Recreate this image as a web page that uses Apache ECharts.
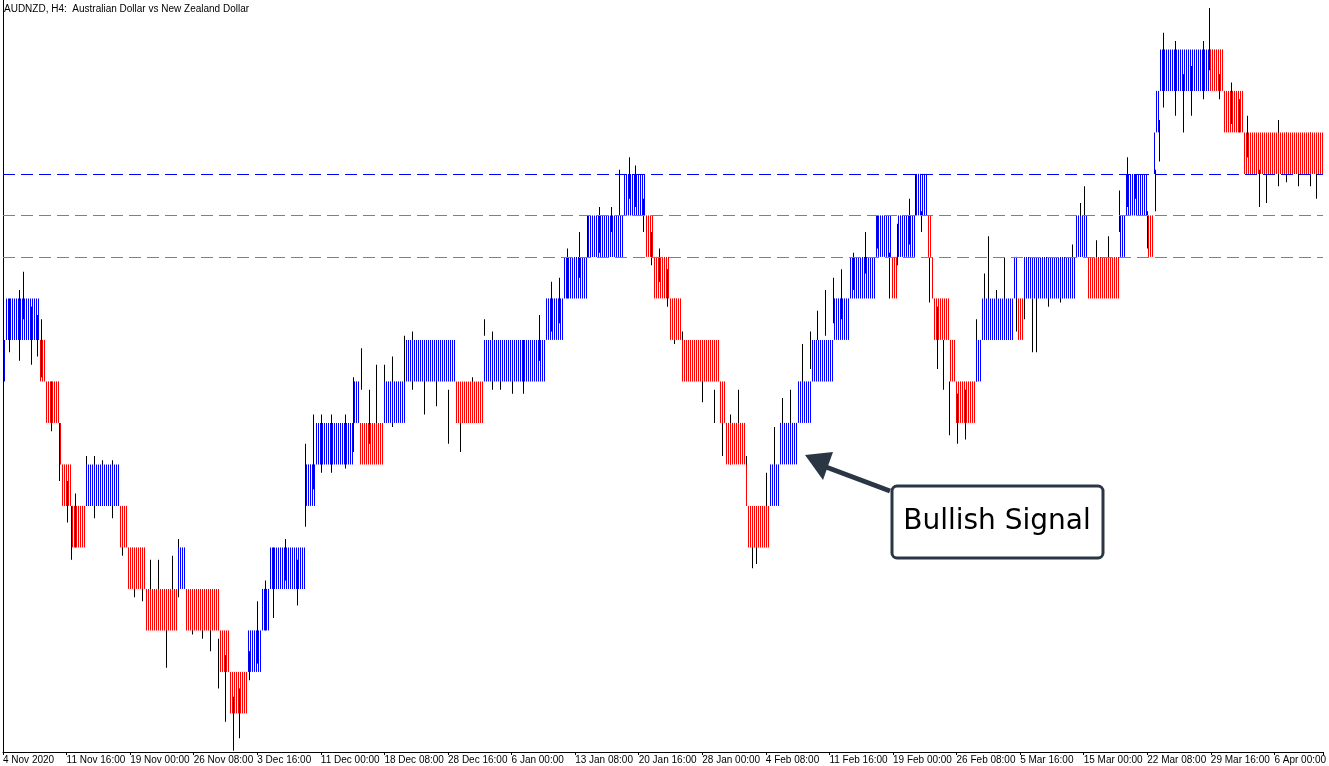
<!DOCTYPE html>
<html>
<head>
<meta charset="utf-8">
<title>AUDNZD H4</title>
<script src="https://cdn.jsdelivr.net/npm/echarts@6/dist/echarts.min.js"></script>
<style>html,body{margin:0;padding:0;background:#fff}</style>
</head>
<body>
<div id="main" style="width:1329px;height:766px;"></div>
<script type="text/javascript">
// x = bar index (H4 bars), y = price in box units (1 box per level)
var timeLabels = ['4 Nov 2020', '11 Nov 16:00', '19 Nov 00:00', '26 Nov 08:00', '3 Dec 16:00', '11 Dec 00:00',
    '18 Dec 08:00', '28 Dec 16:00', '6 Jan 00:00', '13 Jan 08:00', '20 Jan 16:00', '28 Jan 00:00', '4 Feb 08:00',
    '11 Feb 16:00', '19 Feb 00:00', '26 Feb 08:00', '5 Mar 16:00', '15 Mar 00:00', '22 Mar 08:00', '29 Mar 16:00', '6 Apr 00:00'];

// [startBar, endBar, boxLow, dir] dir 1 = up (blue), -1 = down (red)
var boxes = [
    [0, 1, -3, 1], [1, 18, -2, 1], [18, 21, -3, -1], [21, 28, -4, -1], [28, 29, -5, -1], [29, 34, -6, -1],
    [34, 42, -7, -1], [42, 59, -6, 1], [59, 63, -7, -1], [63, 72, -8, -1], [72, 88, -9, -1], [88, 92, -8, 1],
    [92, 109, -9, -1], [109, 114, -10, -1], [114, 123, -11, -1], [123, 130, -10, 1], [130, 134, -9, 1],
    [134, 152, -8, 1], [152, 157, -6, 1], [157, 176, -5, 1], [176, 179, -4, 1], [179, 192, -5, -1],
    [192, 203, -4, 1], [203, 228, -3, 1], [228, 242, -4, -1], [242, 273, -3, 1], [273, 282, -2, 1],
    [282, 294, -1, 1], [294, 312, 0, 1], [312, 323, 1, 1], [323, 327, 0, -1], [327, 336, -1, -1],
    [336, 342, -2, -1], [342, 361, -3, -1], [361, 364, -4, -1], [364, 374, -5, -1], [374, 375, -6, -1],
    [375, 386, -7, -1], [386, 391, -6, 1], [391, 400, -5, 1], [400, 407, -4, 1], [407, 418, -3, 1],
    [418, 426, -2, 1], [426, 439, -1, 1], [439, 447, 0, 1], [447, 450, -1, -1], [450, 459, 0, 1],
    [459, 465, 1, 1], [465, 467, 0, -1], [467, 468, -1, -1], [468, 476, -2, -1], [476, 479, -3, -1],
    [479, 490, -4, -1], [490, 493, -3, 1], [493, 509, -2, 1], [509, 511, -1, 1], [511, 514, -2, -1],
    [514, 540, -1, 1], [540, 546, 0, 1], [546, 562, -1, -1], [562, 565, 0, 1], [565, 576, 1, 1],
    [576, 579, 0, -1], [579, 580, 2, 1], [580, 582, 3, 1], [582, 607, 4, 1], [607, 614, 4, -1],
    [614, 624, 3, -1], [624, 665, 2, -1]
];

// [bar, low, high] wicks
var wicks = [
    [3, -2.3, -1.0], [8, -2.5, -0.8], [10, -1.5, -0.36], [14, -2.6, -1.2], [17, -2.4, -1.4], [19, -2.9, -1.5],
    [24, -4.2, -3], [28, -5.4, -4], [32, -6.4, -5.4], [34, -7.3, -6], [36, -7, -5.7], [42, -5.8, -4.8],
    [46, -6.3, -4.8], [50, -6, -4.9], [55, -6.3, -4.9], [60, -7.2, -6], [66, -8.2, -7.2], [70, -8.3, -7.5],
    [74, -8.5, -7.3], [78, -8.2, -7.3], [82, -9.9, -8.5], [85, -8.7, -7.2], [88, -8.2, -6.8], [95, -9.1, -8],
    [100, -9.2, -8.5], [104, -9.5, -8.7], [108, -10.4, -9.2], [112, -11.2, -9.6], [116, -11.9, -10.6],
    [119, -11.6, -10.4], [124, -10.2, -9.5], [128, -9.8, -8.3], [132, -9, -7.8], [136, -8.7, -7],
    [142, -7.8, -6.8], [148, -8.4, -7.3], [152, -6.5, -4.5], [156, -5.6, -3.8], [160, -5.2, -3.8],
    [165, -5.2, -3.8], [172, -5.1, -3.8], [176, -4.7, -2.9], [180, -3.2, -2.2], [184, -4.5, -3.2],
    [188, -4.2, -2.6], [192, -4, -2.6], [196, -4.1, -2.4], [202, -3.4, -1.9], [206, -3.2, -1.8],
    [212, -3.8, -2.8], [218, -3.6, -2.8], [224, -4.5, -3.2], [230, -4.7, -3.3], [236, -4.0, -2.9],
    [242, -1.9, -1.5], [246, -3.2, -1.8], [250, -3.2, -2], [256, -3.3, -2], [262, -3.3, -2], [270, -2.5, -1.4],
    [276, -1.8, -0.6], [280, -1.6, -0.5], [284, -1, 0.2], [290, -0.5, 0.6], [294, 0, 1.0], [300, 0.1, 1.2],
    [306, 0.6, 1.2], [310, 1, 2.1], [315, 1.4, 2.4], [318, 1.2, 2.2], [322, 0.6, 1.4], [326, -0.2, 0.6],
    [330, -0.6, 0.2], [334, -1.2, -0.3], [338, -2.1, -1], [342, -2.8, -1.8], [346, -2.9, -2], [352, -3.5, -2.4],
    [358, -4, -3.2], [362, -4.8, -3.8], [366, -5, -3.8], [370, -4.7, -3.2], [374, -5.9, -4.8], [377, -7.5, -6.6],
    [379, -7.4, -6.4], [384, -6, -5.2], [388, -5.4, -4.1], [392, -4.2, -3.4], [396, -4, -3.2], [402, -3.2, -2.1],
    [406, -2.7, -1.8], [410, -2, -1.3], [414, -1.9, -0.8], [418, -1.6, -0.5], [422, -1.5, -0.3], [428, -0.8, 0.1],
    [434, -0.4, 0.6], [440, 0.2, 1.0], [446, -1, 0.1], [450, -0.2, 0.8], [456, 0.3, 1.4], [459, 1, 2.0],
    [462, 0.6, 1.1], [466, -1.1, 0], [470, -2.7, -1.2], [473, -3.2, -2], [476, -4.3, -3], [480, -4.5, -3.3],
    [484, -4.4, -3.2], [490, -3, -1.5], [494, -1.5, -0.4], [496, -1.2, 0.5], [500, -1.8, -0.8], [504, -1.1, 0],
    [510, -1.8, -0.5], [514, -1.5, -0.6], [518, -2.3, -1], [520, -2.3, -0.6], [526, -1.2, -0.3], [532, -1.1, -0.1],
    [538, -0.8, 0.3], [542, 0, 1.3], [544, 0.2, 1.7], [550, -0.6, 0.4], [556, -0.3, 0.5], [562, 0.6, 1.6],
    [566, 1.2, 2.4], [570, 1.4, 2], [576, 0.2, 1.1], [580, 1.1, 2.1], [582, 2.3, 3.3], [584, 3.6, 5.4],
    [590, 3.4, 5.2], [594, 3, 4.4], [598, 3.4, 4.6], [604, 3.8, 5.2], [607, 4.5, 6], [612, 3.8, 4.4],
    [618, 3.2, 4.2], [622, 3, 3.8], [626, 2.4, 3.4], [632, 1.2, 2.1], [636, 1.3, 2], [642, 1.7, 3.3],
    [646, 1.8, 3], [652, 1.7, 2.9], [658, 1.7, 3], [661, 1.4, 2.3]
];

var levelLines = [2, 1, 0];

function stripePattern(color) {
    var c = document.createElement('canvas');
    c.width = 2; c.height = 1;
    var ctx = c.getContext('2d');
    ctx.fillStyle = color;
    ctx.fillRect(0, 0, 1, 1);
    return {image: c, repeat: 'repeat'};
}
var blueFill = stripePattern('#0000ff');
var redFill = stripePattern('#ff0000');

var myChart = echarts.init(document.getElementById('main'));

var option = {
    animation: false,
    backgroundColor: '#fff',
    grid: {left: 0, right: 0, top: 0, bottom: 14},
    xAxis: {
        type: 'value', min: 0, max: 664.5, interval: 32,
        axisLine: {onZero: false, lineStyle: {color: '#000'}},
        axisTick: {show: true, length: 3, lineStyle: {color: '#000'}},
        splitLine: {show: false},
        axisLabel: {
            color: '#000', fontSize: 10, fontFamily: 'Liberation Sans', align: 'left', margin: 3,
            formatter: function (v) { return timeLabels[Math.round(v / 32)] || ''; }
        }
    },
    yAxis: {
        type: 'value', min: -11.93, max: 6.19, show: true,
        axisLine: {show: true, onZero: false, lineStyle: {color: '#000'}},
        axisTick: {show: false}, axisLabel: {show: false}, splitLine: {show: false}
    },
    series: [
        {
            type: 'custom',
            data: wicks,
            encode: {x: 0, y: [1, 2]},
            z: 2,
            renderItem: function (params, api) {
                var w = wicks[params.dataIndex];
                var a = api.coord([w[0], w[1]]);
                var b = api.coord([w[0], w[2]]);
                return {type: 'rect', shape: {x: Math.round(a[0]), y: b[1], width: 1, height: a[1] - b[1]}, style: {fill: '#000'}};
            }
        },
        {
            type: 'custom',
            data: boxes,
            encode: {x: [0, 1], y: 2},
            z: 3,
            renderItem: function (params, api) {
                var bx = boxes[params.dataIndex];
                var a = api.coord([bx[0], bx[2]]);
                var b = api.coord([bx[1], bx[2] + 1]);
                return {
                    type: 'rect',
                    shape: {x: Math.round(a[0]), y: b[1], width: Math.round(b[0]) - Math.round(a[0]), height: a[1] - b[1]},
                    style: {fill: bx[3] > 0 ? blueFill : redFill}
                };
            }
        },
        {
            type: 'line',
            data: [],
            markLine: {
                silent: true, symbol: 'none', label: {show: false},
                data: levelLines.map(function (l, i) {
                    return {yAxis: l, lineStyle: {color: i === 0 ? '#0000ff' : '#808080', type: [12, 6], width: 1}};
                })
            }
        }
    ],
    graphic: [
        {type: 'text', left: 4, top: 4, style: {text: 'AUDNZD, H4:  Australian Dollar vs New Zealand Dollar', fontSize: 10, fontFamily: 'Liberation Sans', fill: '#000'}},
        {type: 'line', shape: {x1: 890, y1: 491, x2: 826, y2: 467}, style: {stroke: '#2b3645', lineWidth: 5}, z: 10},
        {type: 'polygon', shape: {points: [[805, 455], [833, 452], [823, 480]]}, style: {fill: '#2b3645'}, z: 10},
        {type: 'rect', shape: {x: 892, y: 486, width: 211, height: 72, r: 5}, style: {fill: '#fff', stroke: '#2b3645', lineWidth: 3}, z: 10},
        {type: 'text', x: 997, y: 522, style: {text: 'Bullish Signal', fontSize: 28, fontFamily: 'DejaVu Sans', fill: '#000', align: 'center', verticalAlign: 'middle'}, z: 11}
    ]
};

myChart.setOption(option);
</script>
</body>
</html>
